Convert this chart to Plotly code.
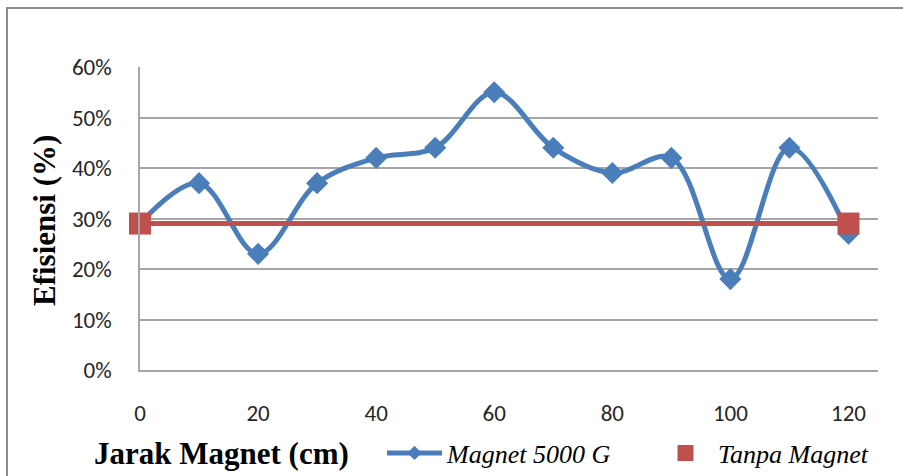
import plotly.graph_objects as go

# Data
jarak = [0, 10, 20, 30, 40, 50, 60, 70, 80, 90, 100, 110, 120]
magnet_5000 = [0.29, 0.37, 0.23, 0.37, 0.42, 0.44, 0.55, 0.44, 0.39, 0.42, 0.18, 0.44, 0.27]
tanpa_x = [0, 120]
tanpa_magnet = [0.29, 0.29]
x_ticks = [0, 20, 40, 60, 80, 100, 120]
y_ticks = [0, 0.1, 0.2, 0.3, 0.4, 0.5, 0.6]

BLUE = "#4A7EBB"
RED = "#C0504D"
GRID = "#A6A6A6"
TICKFONT = dict(family="Carlito, Calibri, Lato, sans-serif", size=23, color="#262626")
SERIF = "Liberation Serif, Times New Roman, serif"

fig = go.Figure()

fig.add_trace(go.Scatter(
    x=jarak, y=magnet_5000, mode="lines+markers", name="Magnet 5000 G",
    line=dict(color=BLUE, width=5, shape="spline", smoothing=1),
    marker=dict(symbol="diamond", size=17, color=BLUE),
    showlegend=False, cliponaxis=False,
))
fig.add_trace(go.Scatter(
    x=tanpa_x, y=tanpa_magnet, mode="lines+markers", name="Tanpa Magnet",
    line=dict(color=RED, width=5),
    marker=dict(symbol="square", size=22, color=RED),
    showlegend=False, cliponaxis=False,
))
# legend entries
fig.add_trace(go.Scatter(
    x=[None], y=[None], mode="lines+markers", name="Magnet 5000 G",
    line=dict(color=BLUE, width=5),
    marker=dict(symbol="diamond", size=11, color=BLUE),
    legend="legend",
))
fig.add_trace(go.Scatter(
    x=[None], y=[None], mode="markers", name="Tanpa Magnet",
    marker=dict(symbol="square", size=16, color=RED),
    legend="legend2",
))

legfont = dict(family=SERIF, size=26, color="#000000", style="italic")

fig.update_layout(
    width=903, height=476,
    margin=dict(l=140, r=25, t=67, b=106, autoexpand=False),
    font=dict(family=SERIF),
    paper_bgcolor="white", plot_bgcolor="white",
    legend=dict(orientation="h", xref="container", yref="container",
                x=382/903, y=1 - 453/476, xanchor="left", yanchor="middle",
                font=legfont, itemwidth=55, bgcolor="rgba(0,0,0,0)"),
    legend2=dict(orientation="h", xref="container", yref="container",
                 x=653/903, y=1 - 453/476, xanchor="left", yanchor="middle",
                 font=legfont, itemwidth=55, bgcolor="rgba(0,0,0,0)"),
    xaxis=dict(range=[0, 125], tickvals=x_ticks, ticktext=[str(v) for v in x_ticks],
               showgrid=False, zeroline=False, showline=True, linecolor=GRID, linewidth=1.5,
               tickfont=TICKFONT, ticks="", ticklabelstandoff=22, automargin=False),
    yaxis=dict(range=[0, 0.6], tickvals=y_ticks, tickformat=".0%",
               showgrid=True, gridcolor=GRID, gridwidth=1.5, zeroline=False,
               showline=True, linecolor=GRID, linewidth=1.5,
               tickfont=TICKFONT, ticks="", ticklabelstandoff=22, automargin=False),
    annotations=[
        dict(text="<b>Jarak Magnet (cm)</b>", xref="paper", yref="paper",
             x=(92 - 140) / 738, y=(370 - 453) / 303, xanchor="left", yanchor="middle",
             showarrow=False, font=dict(family=SERIF, size=31, color="#000000")),
        dict(text="<b>Efisiensi (%)</b>", xref="paper", yref="paper",
             x=(44 - 140) / 738, y=(370 - 220) / 303, xanchor="center", yanchor="middle",
             textangle=-90, showarrow=False,
             font=dict(family=SERIF, size=31, color="#000000")),
    ],
    shapes=[
        dict(type="rect", xref="paper", yref="paper",
             x0=(7 - 140) / 738, x1=(910 - 140) / 738,
             y0=(370 - 490) / 303, y1=(370 - 8) / 303,
             line=dict(color="#8C8C8C", width=2), layer="below"),
    ],
)

fig.write_html("out.html")
